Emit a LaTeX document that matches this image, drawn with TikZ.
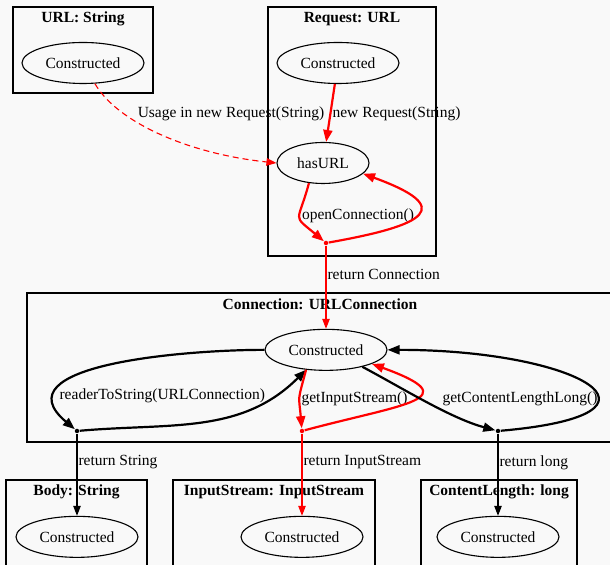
\documentclass[tikz,border=0pt]{standalone}
\usepackage{fontspec}
\setmainfont{Liberation Serif}
\usetikzlibrary{arrows.meta,shapes.geometric,positioning}

\definecolor{bgcol}{RGB}{249,249,249}

\begin{document}
\begin{tikzpicture}[x=1bp, y=1bp, line width=1.1bp,
    >={Triangle[length=10bp,width=7.5bp]},
    font=\fontsize{15.5bp}{18bp}\selectfont]
    \tikzstyle{obj}=[ellipse, draw, inner sep=0pt, minimum width=122bp, minimum height=41bp]
    \tikzstyle{cluster}=[draw, inner sep=0pt]
    \tikzstyle{boxtitle}=[anchor=base, inner sep=0pt, font=\fontsize{15.5bp}{18bp}\selectfont\bfseries]
    \tikzstyle{pt}=[circle, fill, inner sep=0pt, minimum size=4.5bp]
    \tikzstyle{ret}=[->, line width=1.1bp]
    \tikzstyle{call}=[-{Triangle[length=12bp,width=9bp]}, line width=2.2bp]
    \tikzstyle{lbl}=[anchor=west, inner sep=1bp, text=black]

    \fill[bgcol] (0,0) rectangle (610,565);
    \useasboundingbox (0,0) rectangle (610,565);
    \clip (0,0) rectangle (610,565);

    % clusters
    \node[cluster, minimum width=140bp, minimum height=86bp] (urlBox) at (83,515) {};
    \node[cluster, minimum width=168bp, minimum height=249bp] (reqBox) at (352,433.5) {};
    \node[cluster, minimum width=586bp, minimum height=149bp] (conBox) at (320,197.5) {};
    \node[cluster, minimum width=141bp, minimum height=89bp] (bodyBox) at (76.5,40.5) {};
    \node[cluster, minimum width=202bp, minimum height=89bp] (isBox) at (274,40.5) {};
    \node[cluster, minimum width=156bp, minimum height=89bp] (clBox) at (499,40.5) {};

    \node[boxtitle] (urlTitle) at ([yshift=-16bp]urlBox.north) {URL: String};
    \node[boxtitle] (reqTitle) at ([yshift=-16bp]reqBox.north) {Request: URL};
    \node[boxtitle] (conTitle) at ([yshift=-17bp]conBox.north) {Connection: URLConnection};
    \node[boxtitle] (bodyTitle) at ([yshift=-16bp]bodyBox.north) {Body: String};
    \node[boxtitle] (isTitle) at ([yshift=-16bp]isBox.north) {InputStream: InputStream};
    \node[boxtitle] (clTitle) at ([yshift=-16bp]clBox.north) {ContentLength: long};

    % states
    \node[obj] (urlC) at (83,502) {Constructed};
    \node[obj] (reqC) at (338,502) {Constructed};
    \node[obj, minimum width=92bp] (hasURL) at (323,402) {hasURL};
    \node[pt, red] (reqDot) at (326,322) {};
    \node[obj, below=83bp of reqDot] (conC) {Constructed};

    \node[pt] (bodyDot) at (77,134) {};          % return String
    \node[pt, red] (isDot) at (302,134) {};      % return InputStream
    \node[pt] (clDot) at (498,134) {};           % return long

    \node[obj, below=82bp of bodyDot] (bodyC) {Constructed};
    \node[obj, below=82bp of isDot] (isC) {Constructed};
    \node[obj, below=82bp of clDot] (clC) {Constructed};

    % edges
    \path (urlC) edge[ret, red, dash pattern=on 6bp off 4bp, out=-60, in=174, out distance=45bp, in distance=88bp]
        node[lbl, pos=.27, xshift=13bp, yshift=-1bp] (lUsage) {Usage in new Request(String)} (hasURL.west);
    \path (reqC) edge[call, red] node[lbl, yshift=-1bp] (lNew) {new Request(String)} (hasURL);
    \path (hasURL.-125) edge[call, red, out=-105, in=140, looseness=1.8]
        node[lbl, pos=.45] (lOpen) {openConnection()} (reqDot);
    \path (reqDot) edge[call, red, out=10, in=-20, looseness=3.3] (hasURL.-15);
    \path (reqDot) edge[ret, red] node[lbl, pos=.35] (lRetCon) {return Connection} (conC);

    % calls on the connection
    \path (conC) edge[call, out=180, in=140, out distance=80bp, in distance=100bp]
        node[lbl, pos=.8] (lReader) {readerToString(URLConnection)} (bodyDot);
    \path (bodyDot) edge[call, out=5, in=-135] (conC);

    \path (conC.-135) edge[call, red, out=-105, in=95, looseness=1.5]
        node[lbl, pos=.5] (lGetIS) {getInputStream()} (isDot);
    \path (isDot) edge[call, red, out=15, in=-20, looseness=2.8] (conC.-17);

    \path (conC.-25) edge[call, out=-28, in=165, looseness=.8]
        node[lbl, pos=.5, xshift=13bp, yshift=3bp] (lGetCL) {getContentLengthLong()} (clDot);
    \path (clDot) edge[call, out=5, in=0, looseness=3.5] (conC);

    % returned objects
    \path (bodyDot) edge[ret] node[lbl, pos=.35] (lRetStr) {return String} (bodyC);
    \path (isDot) edge[ret, red] node[lbl, pos=.35] (lRetIS) {return InputStream} (isC);
    \path (clDot) edge[ret] node[lbl, pos=.35] (lRetLong) {return long} (clC);

\end{tikzpicture}
\end{document}
